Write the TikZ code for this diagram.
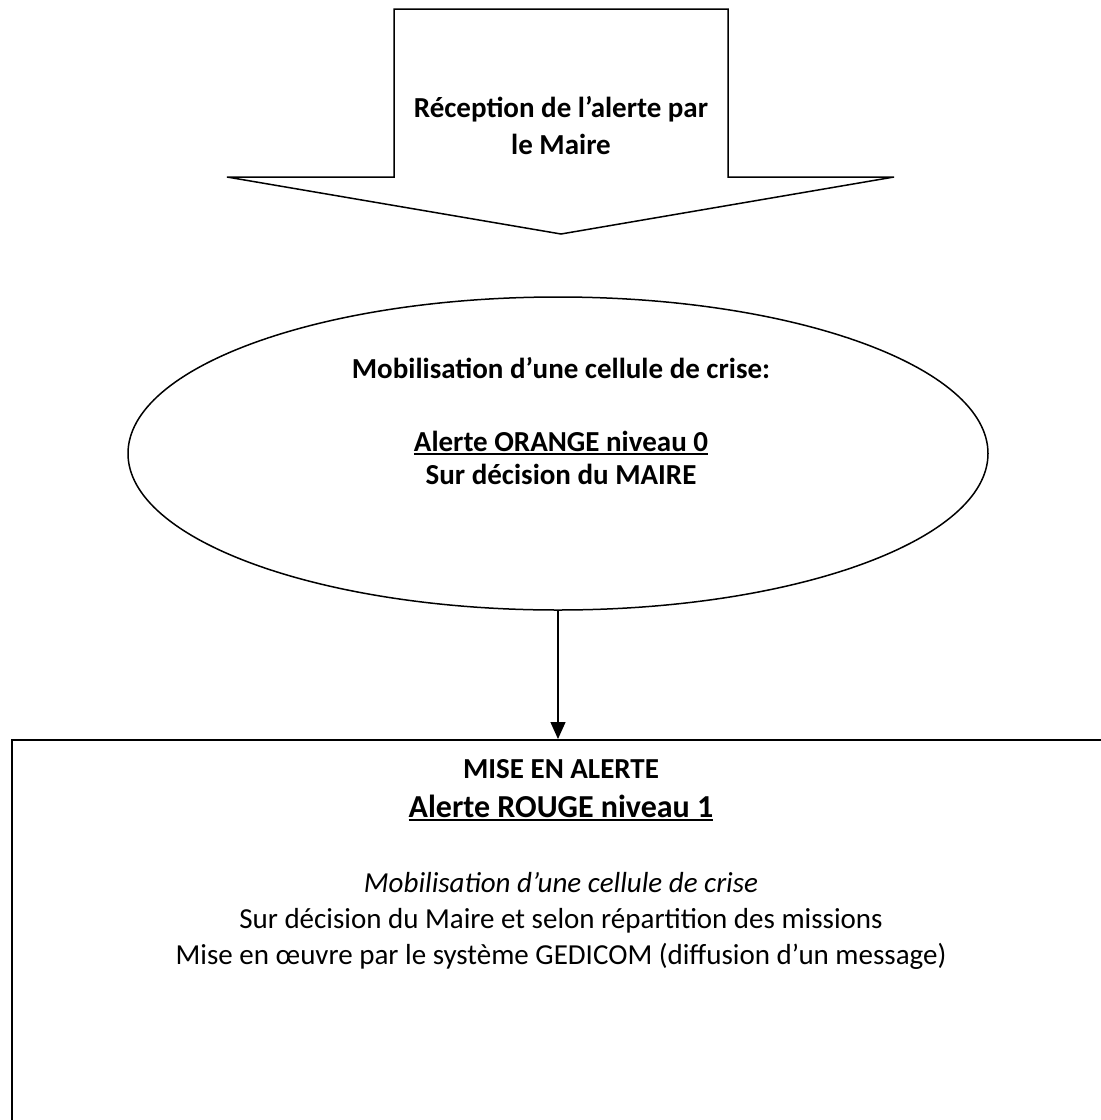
\documentclass[tikz,border=0pt]{standalone}
\usepackage{fontspec}
\setmainfont{Carlito}
\usetikzlibrary{shapes.geometric,arrows.meta}
\newcommand\myul[2][2pt]{\setbox0\hbox{#2}\rlap{\rule[-4pt]{\wd0}{#1}}\box0}
\begin{document}
\begin{tikzpicture}[x=1pt,y=-1pt,
  rtxt/.style={font=\fontsize{29}{36}\selectfont, inner sep=0pt, anchor=base},
  btxt/.style={font=\fontsize{29}{36}\selectfont\bfseries, inner sep=0pt, anchor=base},
  bigtxt/.style={font=\fontsize{32}{38}\selectfont\bfseries, inner sep=0pt, anchor=base},
  shape line/.style={draw=black, line width=1.5pt, line join=miter}]
\useasboundingbox (0,0) rectangle (1101,1120);
\clip (0,0) rectangle (1101,1120);
\fill[white] (0,0) rectangle (1101,1120);
% top block arrow
\draw[shape line] (394,9) -- (728,9) -- (728,177) -- (894,177) -- (561,234)
   -- (227,177) -- (394,177) -- cycle;
\node[btxt] (t1) at (561,117) {Réception de l’alerte par};
\node[btxt] (t2) at (561,154) {le Maire};
% ellipse
\node[shape line, ellipse, minimum width=860pt, minimum height=313pt, inner sep=0pt] (ell) at (558,453.5) {};
\node[btxt] (e1) at (561,378) {Mobilisation d’une cellule de crise:};
\node[btxt] (e2) at (561,451) {\myul{Alerte ORANGE niveau 0}};
\node[btxt] (e3) at (561,484) {Sur décision du MAIRE};
% box
\node[draw=black, line width=2pt, rectangle, minimum width=1300pt, minimum height=600pt, anchor=north west, inner sep=0pt] (box) at (11,739) {};
\draw[line width=1.3pt, -{Triangle[length=17pt,width=15pt]}] (ell.south) -- (ell.south |- box.north);
\node[btxt] (b1) at (561,778) {MISE EN ALERTE};
\node[bigtxt] (b2) at (561,817) {\myul[2.2pt]{Alerte ROUGE niveau 1}};
\node[rtxt, font=\fontsize{29}{36}\selectfont\itshape] (b3) at (561,892) {Mobilisation d’une cellule de crise};
\node[rtxt] (b4) at (561,928) {Sur décision du Maire et selon répartition des missions};
\node[rtxt] (b5) at (561,964) {Mise en œuvre par le système GEDICOM (diffusion d’un message)};
\end{tikzpicture}
\end{document}
